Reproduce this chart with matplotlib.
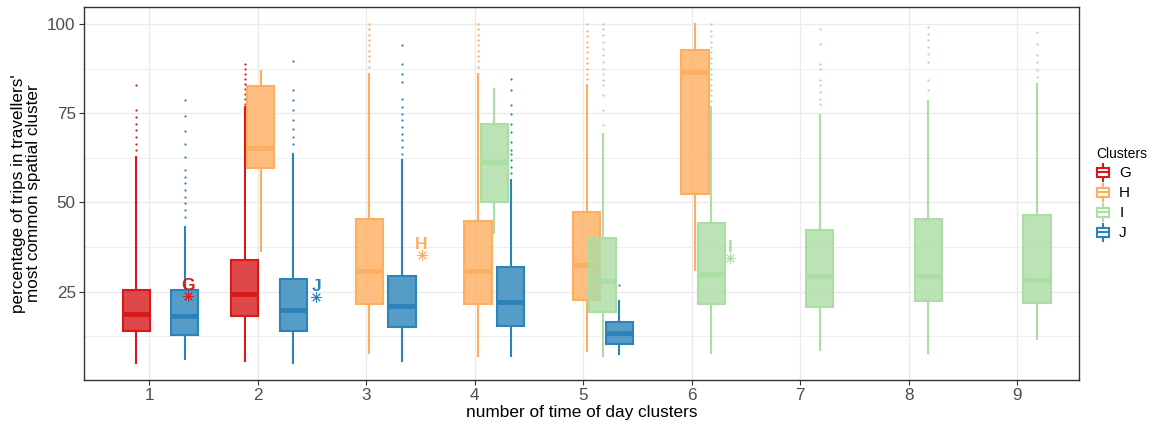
import matplotlib
matplotlib.use('Agg')
import matplotlib.pyplot as plt
from matplotlib.colors import to_rgba
from matplotlib.legend_handler import HandlerBase
from matplotlib.patches import Rectangle, Patch
from matplotlib.lines import Line2D

plt.rcParams['font.family'] = ['Liberation Sans', 'DejaVu Sans']

# ---------------- data ----------------
clusters = ['G', 'H', 'I', 'J']
x_ticks = [1, 2, 3, 4, 5, 6, 7, 8, 9]

G_x = [1, 2]
G_whislo = [5.1, 5.5]
G_q1 = [14.1, 18.1]
G_med = [18.6, 24.4]
G_q3 = [25.6, 33.9]
G_whishi = [62.8, 76.8]
G_fliers = [[64.7, 66.5, 68.4, 70.3, 72.1, 74.0, 75.8, 82.8],
            [77.7, 79.1, 80.5, 81.9, 83.3, 84.7, 86.1, 87.5, 88.9]]

H_x = [2, 3, 4, 5, 6]
H_whislo = [36.3, 7.9, 7.1, 8.3, 31.1]
H_q1 = [59.6, 21.6, 21.6, 22.8, 52.4]
H_med = [65.3, 30.9, 30.9, 32.5, 86.5]
H_q3 = [82.5, 45.3, 44.9, 47.2, 92.8]
H_whishi = [86.7, 86.0, 86.0, 82.8, 100.0]
H_fliers = [[],
            [88.0, 89.5, 91.0, 92.5, 94.0, 95.5, 97.0, 98.5, 100.0],
            [88.0, 89.5, 91.0, 92.5, 94.0, 95.5, 97.0, 98.5, 100.0],
            [84.5, 86.0, 87.5, 89.0, 90.5, 92.0, 93.5, 95.0, 96.5, 98.0, 100.0],
            []]

I_x = [4, 5, 6, 7, 8, 9]
I_whislo = [41.4, 6.9, 7.9, 8.6, 7.9, 11.6]
I_q1 = [50.2, 19.3, 21.4, 20.6, 22.3, 21.8]
I_med = [61.2, 27.9, 30.0, 29.3, 29.5, 28.4]
I_q3 = [71.9, 39.9, 44.2, 42.3, 45.4, 46.5]
I_whishi = [81.7, 69.3, 76.8, 74.4, 78.4, 83.3]
I_fliers = [[],
            [71.6, 75.8, 80.0, 82.8, 84.2, 86.1, 87.5, 89.3, 91.2, 93.1, 94.9, 96.8, 98.7, 100.0],
            [78.5, 80.0, 81.5, 83.0, 84.5, 86.0, 87.5, 89.0, 90.5, 92.0, 93.5, 95.0, 96.5, 98.0, 100.0],
            [77.7, 79.1, 80.9, 82.8, 84.2, 87.5, 88.9, 94.5, 98.7],
            [81.4, 84.2, 89.3, 91.7, 93.5, 95.4, 97.3, 99.1],
            [85.1, 87.0, 89.3, 91.2, 94.5, 97.7]]

J_x = [1, 2, 3, 4, 5]
J_whislo = [6.0, 5.1, 5.5, 6.9, 7.4]
J_q1 = [12.8, 14.1, 15.0, 15.3, 10.2]
J_med = [18.1, 19.8, 20.9, 22.1, 13.3]
J_q3 = [25.6, 28.5, 29.5, 31.8, 16.4]
J_whishi = [43.2, 63.7, 61.9, 56.3, 22.3]
J_fliers = [[46.0, 47.9, 49.8, 51.6, 53.5, 55.4, 57.2, 59.1, 62.8, 66.5, 70.1, 74.2, 78.8],
            [66.5, 68.4, 70.7, 73.0, 75.8, 78.6, 81.4, 89.6],
            [63.7, 65.6, 67.5, 69.3, 71.2, 73.0, 74.9, 76.8, 79.1, 83.7, 86.1, 88.9, 94.0],
            [58.2, 60.0, 61.9, 63.7, 64.7, 67.0, 69.8, 72.1, 74.9, 77.2, 81.6, 84.7],
            [27.0]]

# cluster-centre markers (asterisk + label)
marker_cluster = ['G', 'J', 'H', 'I']
marker_x = [1.36, 2.54, 3.51, 6.35]
marker_y = [23.7, 23.5, 35.3, 34.4]

# ---------------- style ----------------
colors = {'G': '#D7191C', 'H': '#FDAE61', 'I': '#ABDDA4', 'J': '#2B83BA'}
offsets = {'G': -0.12, 'H': 0.03, 'I': 0.18, 'J': 0.33}
data = {
    'G': (G_x, G_whislo, G_q1, G_med, G_q3, G_whishi, G_fliers),
    'H': (H_x, H_whislo, H_q1, H_med, H_q3, H_whishi, H_fliers),
    'I': (I_x, I_whislo, I_q1, I_med, I_q3, I_whishi, I_fliers),
    'J': (J_x, J_whislo, J_q1, J_med, J_q3, J_whishi, J_fliers),
}

fig = plt.figure(figsize=(11.52, 4.26), dpi=100)
ax = fig.add_axes([0.0729, 0.108, 0.8635, 0.8756])

for zi, k in enumerate(clusters):
    xs, lo, q1, med, q3, hi, fl = data[k]
    c = colors[k]
    stats = [dict(whislo=a, q1=b, med=m, q3=d, whishi=e, fliers=f)
             for a, b, m, d, e, f in zip(lo, q1, med, q3, hi, fl)]
    ax.bxp(stats, positions=[x + offsets[k] for x in xs], widths=0.25,
           patch_artist=True, showcaps=False, showfliers=True, manage_ticks=False,
           boxprops=dict(facecolor=to_rgba(c, 0.8), edgecolor=c, linewidth=1.5),
           medianprops=dict(color=c, linewidth=3.5, solid_capstyle='butt'),
           whiskerprops=dict(color=c, linewidth=1.5),
           flierprops=dict(marker='o', markersize=1.6, markerfacecolor=c,
                           markeredgecolor='none', linestyle='none'),
           zorder=3 + zi)

for k, mx, my in zip(marker_cluster, marker_x, marker_y):
    c = colors[k]
    ax.plot([mx], [my], marker=(8, 2, 0), markersize=7.5, color=c,
            markeredgewidth=0.7, linestyle='none', zorder=10)
    ax.text(mx, my + 3.0, k, color=c, fontsize=12.5, fontweight='bold',
            ha='center', va='center', zorder=10)

ax.set_xlim(0.4, 9.565)
ax.set_ylim(0.25, 104.75)
ax.set_xticks(x_ticks)
ax.set_xticklabels([str(t) for t in x_ticks])
ax.set_yticks([25, 50, 75, 100])
ax.set_yticks([12.5, 37.5, 62.5, 87.5], minor=True)
ax.grid(True, which='major', color='#EBEBEB', linewidth=1.0, zorder=0)
ax.grid(True, which='minor', axis='y', color='#EBEBEB', linewidth=0.6, zorder=0)
ax.set_axisbelow(True)
ax.tick_params(axis='both', which='major', length=3.5, width=0.8, color='#333333',
               labelcolor='#4D4D4D', labelsize=12.3, pad=2.5)
ax.tick_params(axis='y', which='minor', length=0)
for sp in ax.spines.values():
    sp.set_color('#333333')
    sp.set_linewidth(1.0)

ax.set_xlabel('number of time of day clusters', fontsize=12.4, color='black')
ax.set_ylabel("percentage of trips in travellers'\nmost common spatial cluster",
              fontsize=12.3, color='black', linespacing=1.0)
ax.xaxis.set_label_coords(0.5, -0.068)
ax.yaxis.set_label_coords(-0.043, 0.5)


class BoxKey(HandlerBase):
    def create_artists(self, legend, orig_handle, xdescent, ydescent,
                       width, height, fontsize, trans):
        c = orig_handle.get_edgecolor()
        x0, y0 = -xdescent, -ydescent
        bx0, bw = x0 + 0.05 * width, 0.9 * width
        by0, bh = y0 + 0.22 * height, 0.56 * height
        rect = Rectangle((bx0, by0), bw, bh, facecolor='white', edgecolor=c,
                         linewidth=1.5, transform=trans)
        med = Line2D([bx0, bx0 + bw], [y0 + 0.5 * height] * 2, color=c,
                     linewidth=1.5, transform=trans)
        wl = Line2D([x0 + 0.5 * width] * 2, [y0, by0], color=c, linewidth=1.5,
                    transform=trans)
        wu = Line2D([x0 + 0.5 * width] * 2, [by0 + bh, y0 + height], color=c,
                    linewidth=1.5, transform=trans)
        return [rect, med, wl, wu]


handles = [Patch(facecolor='none', edgecolor=colors[k], label=k) for k in clusters]
leg = fig.legend(handles=handles, title='Clusters', loc='upper left',
                 bbox_to_anchor=(0.945, 0.674), frameon=False, fontsize=11,
                 title_fontsize=10, handlelength=0.9, handleheight=1.3,
                 handletextpad=0.6, labelspacing=0.22, borderpad=0,
                 alignment='left', handler_map={Patch: BoxKey()})

fig.savefig('out.png', dpi=100)
